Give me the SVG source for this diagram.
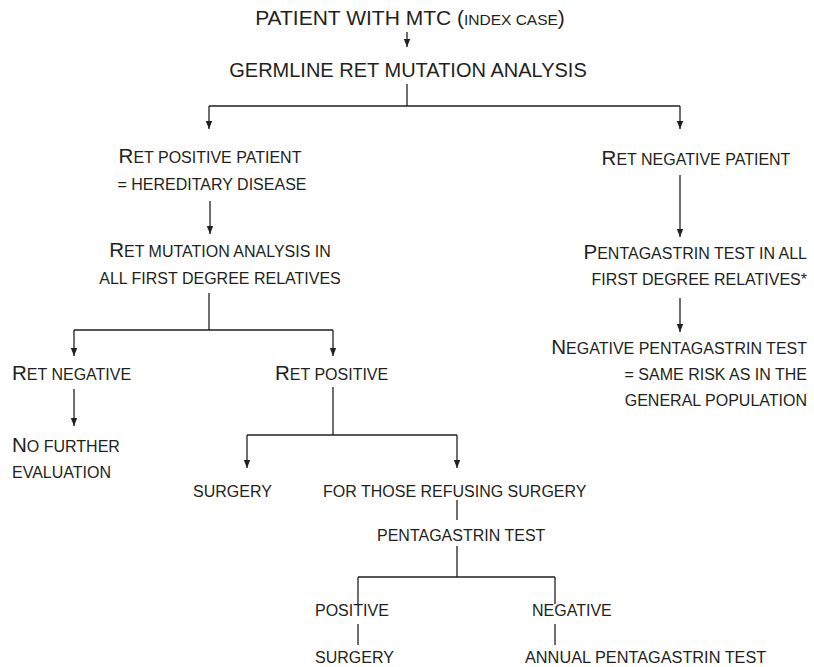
<svg xmlns="http://www.w3.org/2000/svg" width="814" height="667" viewBox="0 0 814 667">
<style>
text{font-family:"Liberation Sans",Arial,sans-serif;fill:#231f20;font-size:16px}
.big{font-size:20.5px}
.h{font-size:21px}
.c{text-anchor:middle}
.r{text-anchor:end}
.ln{stroke:#231f20;stroke-width:1.3;fill:none}
</style>
<defs>
<marker id="ah2" markerUnits="userSpaceOnUse" markerWidth="8" markerHeight="10" refX="10" refY="4" orient="auto" viewBox="0 0 10 8">
<path d="M0,0 L10,4 L0,8 Z" fill="#231f20"/>
</marker>
</defs>
<g id="connectors">
<path class="ln" marker-end="url(#ah2)" d="M407,32 V47"/>
<path class="ln" d="M407,84 V106 M209,106 H680"/>
<path class="ln" marker-end="url(#ah2)" d="M209,106 V129"/>
<path class="ln" marker-end="url(#ah2)" d="M680,106 V129"/>
<path class="ln" marker-end="url(#ah2)" d="M210,201 V234"/>
<path class="ln" marker-end="url(#ah2)" d="M680,175 V237"/>
<path class="ln" marker-end="url(#ah2)" d="M680,298 V332"/>
<path class="ln" d="M209,293 V330 M74,330 H333"/>
<path class="ln" marker-end="url(#ah2)" d="M74,330 V356"/>
<path class="ln" marker-end="url(#ah2)" d="M333,330 V356"/>
<path class="ln" marker-end="url(#ah2)" d="M74,389 V426"/>
<path class="ln" d="M333,387 V435 M247,435 H457"/>
<path class="ln" marker-end="url(#ah2)" d="M247,435 V468"/>
<path class="ln" marker-end="url(#ah2)" d="M457,435 V468"/>
<path class="ln" d="M457,500 V520"/>
<path class="ln" d="M457,546 V577 M358,577 H555 M358,577 V604 M555,577 V604 M358,624 V645 M555,624 V645"/>
</g>
<g id="n_index"><text class="c" x="410" y="25" style="font-size:15.5px"><tspan class="h">PATIENT WITH MTC (</tspan>INDEX CASE<tspan class="h">)</tspan></text></g>
<g id="n_germline"><text class="c" x="408" y="77" style="font-size:20px">GERMLINE RET MUTATION ANALYSIS</text></g>
<g id="n_retpos"><text class="c" x="210" y="163"><tspan class="big">R</tspan>ET POSITIVE PATIENT</text>
<text class="c" x="212" y="190">= HEREDITARY DISEASE</text></g>
<g id="n_retmut"><text class="c" x="220" y="257"><tspan class="big">R</tspan>ET MUTATION ANALYSIS IN</text>
<text class="c" x="220" y="284">ALL FIRST DEGREE RELATIVES</text></g>
<g id="n_retnegpat"><text class="c" x="696" y="165"><tspan class="big">R</tspan>ET NEGATIVE PATIENT</text></g>
<g id="n_penta_all"><text class="r" x="807" y="259"><tspan class="big">P</tspan>ENTAGASTRIN TEST IN ALL</text>
<text class="r" x="807" y="285">FIRST DEGREE RELATIVES*</text></g>
<g id="n_negpenta"><text class="r" x="807" y="354"><tspan class="big">N</tspan>EGATIVE PENTAGASTRIN TEST</text>
<text class="r" x="807" y="380">= SAME RISK AS IN THE</text>
<text class="r" x="807" y="406">GENERAL POPULATION</text></g>
<g id="n_retneg"><text x="12" y="380"><tspan class="big">R</tspan>ET NEGATIVE</text></g>
<g id="n_nofurther"><text x="12" y="452"><tspan class="big">N</tspan>O FURTHER</text>
<text x="12" y="478">EVALUATION</text></g>
<g id="n_retposi"><text x="275" y="380"><tspan class="big">R</tspan>ET POSITIVE</text></g>
<g id="n_surgery1"><text x="193" y="497">SURGERY</text></g>
<g id="n_refusing"><text x="323" y="497">FOR THOSE REFUSING SURGERY</text></g>
<g id="n_pentatest"><text x="377" y="541">PENTAGASTRIN TEST</text></g>
<g id="n_positive"><text x="315" y="616">POSITIVE</text></g>
<g id="n_negative"><text x="532" y="616">NEGATIVE</text></g>
<g id="n_surgery2"><text x="315" y="663">SURGERY</text></g>
<g id="n_annual"><text x="525" y="663" style="font-size:16.3px">ANNUAL PENTAGASTRIN TEST</text></g>
</svg>
